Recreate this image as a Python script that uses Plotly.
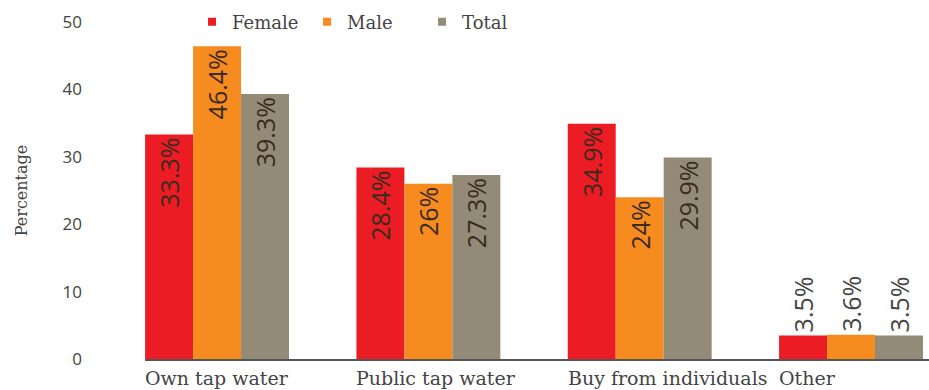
import plotly.graph_objects as go

categories = ["Own tap water", "Public tap water", "Buy from individuals", "Other"]
female = [33.3, 28.4, 34.9, 3.5]
male = [46.4, 26, 24, 3.6]
total = [39.3, 27.3, 29.9, 3.5]
series_names = ["Female", "Male", "Total"]
y_ticks = [0, 10, 20, 30, 40, 50]

colors = {"Female": "#EC1C24", "Male": "#F68B1F", "Total": "#938A78"}
SERIF = "DejaVu Serif"
SANS = "Open Sans"

fig = go.Figure()
for name, vals in zip(series_names, [female, male, total]):
    fig.add_trace(go.Bar(
        x=categories, y=vals, name=name,
        marker=dict(color=colors[name], line=dict(width=0)),
        text=[f"{v:g}%" for v in vals],
        textposition=["inside" if v > 10 else "outside" for v in vals],
        textangle=-90,
        insidetextanchor="end",
        constraintext="none",
        insidetextfont=dict(family=SANS, size=25, color="#3a2a20"),
        outsidetextfont=dict(family=SANS, size=25, color="#444444"),
        cliponaxis=False,
        showlegend=False,
    ))
    fig.add_trace(go.Scatter(
        x=[None], y=[None], mode="markers", name=name,
        marker=dict(symbol="square", size=8, color=colors[name]),
        showlegend=True,
    ))

for cat in categories:
    fig.add_annotation(
        x=cat, y=0, xref="x", yref="y", text=cat, showarrow=False,
        xanchor="left", yanchor="top", xshift=-74, yshift=-6,
        font=dict(family=SERIF, size=19, color="#444444"),
    )

fig.update_layout(
    width=929, height=390,
    margin=dict(l=145, r=0, t=22, b=31, autoexpand=False),
    plot_bgcolor="white", paper_bgcolor="white",
    barmode="group", bargap=0.319, bargroupgap=0,
    legend=dict(orientation="h", x=0.06, y=1.0, xanchor="left", yanchor="middle",
                font=dict(family=SERIF, size=18, color="#444444"),
                entrywidth=70, entrywidthmode="pixels",
                bgcolor="rgba(0,0,0,0)", tracegroupgap=0),
    xaxis=dict(range=[-0.341, 3.369], showticklabels=False, showline=True, automargin=False,
               linecolor="#555555", linewidth=1.5, ticks="", showgrid=False, zeroline=False),
    yaxis=dict(range=[0, 50], tickvals=y_ticks, showgrid=False, zeroline=False, automargin=False,
               showline=False, ticks="", ticklabelstandoff=62,
               tickfont=dict(family=SANS, size=17, color="#444444"),
               title=dict(text="Percentage", font=dict(family=SERIF, size=16, color="#444444"),
                          standoff=30)),
)

fig.write_html("out.html", config={"displayModeBar": False},
               post_script="document.body.style.margin='0';")
